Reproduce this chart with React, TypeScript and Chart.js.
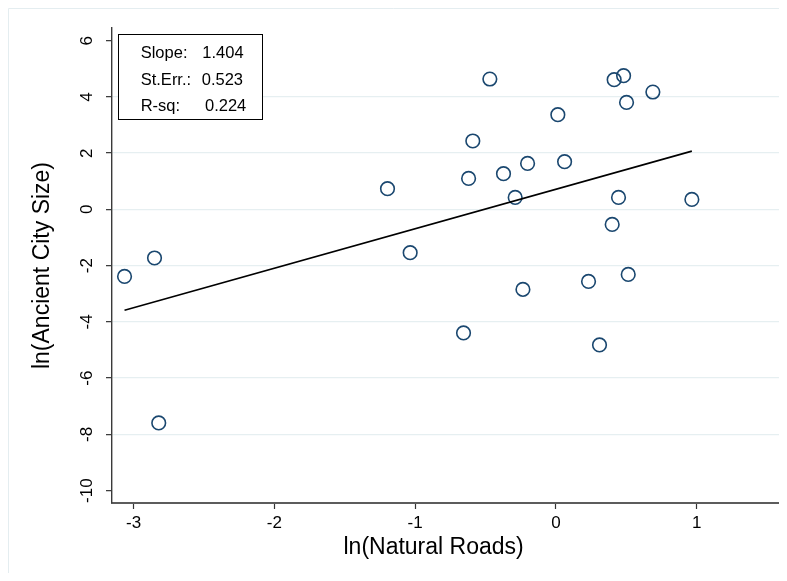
import React, { useEffect, useRef } from "react";
import { Chart, registerables } from "chart.js";

Chart.register(...registerables);

// ---- data ----
const roadsLn: number[] = [
  -3.064, -2.851, -2.821, -1.196, -1.035, -0.656, -0.62, -0.59, -0.469, -0.372,
  -0.289, -0.234, -0.201, 0.014, 0.062, 0.232, 0.4, 0.414, 0.445, 0.481,
  0.502, 0.514, 0.31, 0.689, 0.966,
];
const citySizeLn: number[] = [
  -2.382, -1.728, -7.593, 0.736, -1.539, -4.394, 1.102, 2.432, 4.636, 1.269,
  0.427, -2.844, 1.635, 3.367, 1.696, -2.56, -0.533, 4.611, 0.427, 4.753,
  3.804, -2.311, -4.82, 4.174, 0.355,
];
const xTicks: number[] = [-3, -2, -1, 0, 1];
const yTicks: number[] = [6, 4, 2, 0, -2, -4, -6, -8, -10];
const statLabels: string[] = ["Slope:", "St.Err.:", "R-sq:"];
const statValues: string[] = ["1.404", "0.523", "0.224"];
const slope = 1.404;
const xTitle = "ln(Natural Roads)";
const yTitle = "ln(Ancient City Size)";

const FONT = "'Liberation Sans', Arial, Helvetica, sans-serif";

export default function App() {
  const ref = useRef<HTMLCanvasElement | null>(null);

  useEffect(() => {
    if (!ref.current) return;
    const n = roadsLn.length;
    const mx = roadsLn.reduce((a, b) => a + b, 0) / n;
    const my = citySizeLn.reduce((a, b) => a + b, 0) / n;
    const xmin = Math.min(...roadsLn);
    const xmax = Math.max(...roadsLn);
    const fit = (x: number) => my + slope * (x - mx);

    const points = roadsLn.map((x, i) => ({ x, y: citySizeLn[i] }));
    const linePts = [
      { x: xmin, y: fit(xmin) },
      { x: xmax, y: fit(xmax) },
    ];

    const decor = {
      id: "decor",
      beforeDraw(chart: any) {
        const c = chart.ctx;
        c.save();
        c.fillStyle = "#ffffff";
        c.fillRect(0, 0, chart.width, chart.height);
        c.strokeStyle = "#e4edf0";
        c.lineWidth = 1;
        c.beginPath();
        c.moveTo(0.5, chart.height);
        c.lineTo(0.5, 0.5);
        c.lineTo(chart.width, 0.5);
        c.stroke();
        c.restore();
      },
      afterDraw(chart: any) {
        const c = chart.ctx;
        const xs = chart.scales.x;
        const ys = chart.scales.y;
        c.save();
        c.fillStyle = "#000000";
        // x tick labels
        c.font = `17px ${FONT}`;
        c.textAlign = "center";
        c.textBaseline = "middle";
        xTicks.forEach((v) => {
          c.fillText(String(v), xs.getPixelForValue(v), 515.5);
        });
        // y tick labels (rotated)
        yTicks.forEach((v) => {
          c.save();
          c.translate(79.5, ys.getPixelForValue(v));
          c.rotate(-Math.PI / 2);
          c.fillText(String(v), 0, 0);
          c.restore();
        });
        // axis titles
        c.font = `23px ${FONT}`;
        c.fillText(xTitle, 425.6, 540);
        c.save();
        c.translate(35, 257.5);
        c.rotate(-Math.PI / 2);
        c.fillText(yTitle, 0, 0);
        c.restore();
        // stats box
        c.fillStyle = "#ffffff";
        c.fillRect(110.5, 26.5, 144, 85);
        c.strokeStyle = "#000000";
        c.lineWidth = 1;
        c.strokeRect(110.5, 26.5, 144, 85);
        c.fillStyle = "#000000";
        c.font = `16.5px ${FONT}`;
        c.textAlign = "left";
        const rowsY = [45.5, 72, 98.5];
        const valX = [194.3, 193.7, 197];
        statLabels.forEach((s, i) => {
          c.fillText(s, 132.7, rowsY[i]);
          c.fillText(statValues[i], valX[i], rowsY[i]);
        });
        c.restore();
      },
    };

    const chart = new Chart(ref.current, {
      type: "scatter",
      data: {
        datasets: [
          {
            type: "line",
            data: linePts,
            borderColor: "#000000",
            borderWidth: 1.6,
            pointRadius: 0,
            fill: false,
          } as any,
          {
            data: points,
            pointStyle: "circle",
            pointRadius: 6.8,
            pointBorderWidth: 1.6,
            pointBorderColor: "#1a476f",
            pointBackgroundColor: "rgba(0,0,0,0)",
            borderColor: "#1a476f",
            backgroundColor: "rgba(0,0,0,0)",
          },
        ],
      },
      options: {
        animation: false,
        responsive: false,
        layout: { autoPadding: false, padding: { top: 20, left: 0, right: 0, bottom: 0 } },
        plugins: {
          legend: { display: false },
          tooltip: { enabled: false },
        },
        scales: {
          x: {
            type: "linear",
            min: -3.153,
            max: 1.585,
            afterBuildTicks: (s: any) => {
              s.ticks = xTicks.map((v) => ({ value: v }));
            },
            afterFit: (s: any) => {
              s.height = 70;
            },
            ticks: { display: false },
            grid: {
              drawOnChartArea: false,
              drawTicks: true,
              tickLength: 6,
              tickColor: "#333333",
              tickWidth: 1.2,
            },
            border: { display: true, color: "#5c5c5c", width: 2 },
          },
          y: {
            type: "linear",
            min: -10.44,
            max: 6.45,
            afterBuildTicks: (s: any) => {
              s.ticks = yTicks.map((v) => ({ value: v }));
            },
            afterFit: (s: any) => {
              s.width = 104;
            },
            ticks: { display: false },
            grid: {
              color: (ctx: any) =>
                ctx.tick && (ctx.tick.value === 6 || ctx.tick.value === -10)
                  ? "rgba(0,0,0,0)"
                  : "#e6eff1",
              lineWidth: 1.3,
              drawTicks: true,
              tickLength: 6,
              tickColor: "#333333",
              tickWidth: 1.2,
            },
            border: { display: true, color: "#3a3a3a", width: 1.4 },
          },
        },
      },
      plugins: [decor],
    } as any);

    return () => chart.destroy();
  }, []);

  return (
    <div style={{ width: 771, height: 565 }}>
      <canvas ref={ref} width={771} height={565} style={{ display: "block" }} />
    </div>
  );
}
